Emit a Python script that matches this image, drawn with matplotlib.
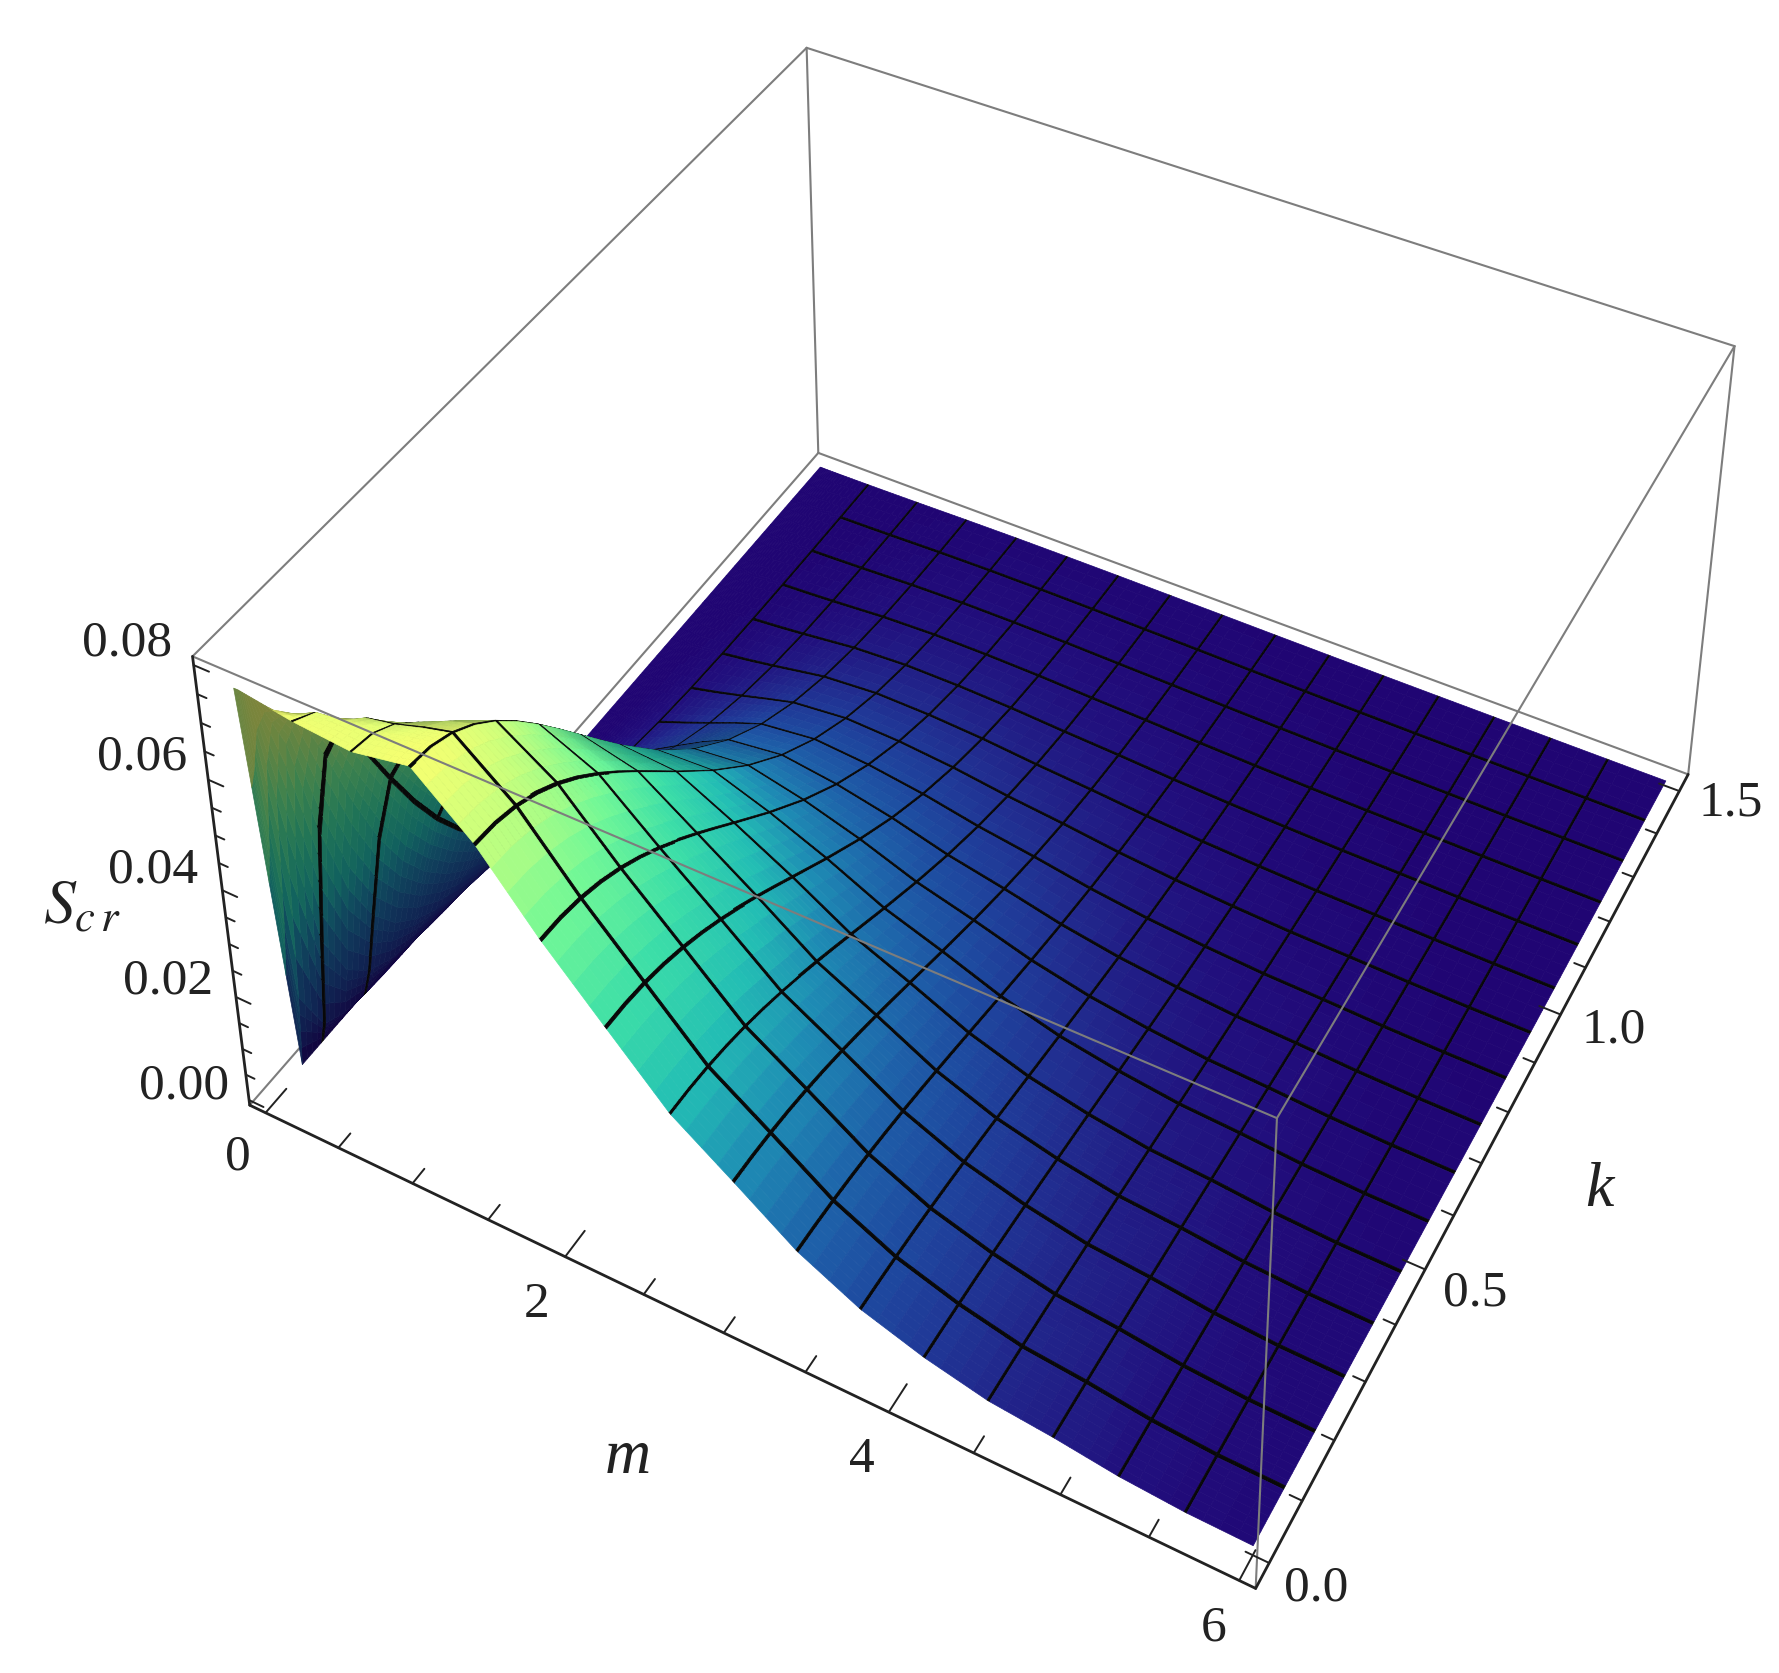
import numpy as np
import matplotlib
matplotlib.use('Agg')
import matplotlib.pyplot as plt
from matplotlib.colors import LinearSegmentedColormap

SC = 1779/1568
WPX, HPX = 1779, 1673
M0, M1 = -0.11, 6.09
K0, K1 = -0.04, 1.54
Z0, Z1 = -0.001, 0.0815

corners = {(0,0,0):(220,975),(1,0,0):(1107,1400),(1,1,0):(1487,683),(0,1,0):(722,398),
           (0,0,1):(170,578),(1,0,1):(1125,985),(1,1,1):(1530,305),(0,1,1):(710,43)}

m_vals = np.array(sorted([0,.03,.08,.15,.25,.5625,.9375]+[0.375*i for i in range(1,17)]))
k_vals = np.array(sorted([.046875,.140625,.234375,.328125,.421875]+[0.09375*j for j in range(17)]))
prof_m=[0,.03,.375,.75,1.125,1.5,1.875,2.25,2.625,3,3.375,3.75,4.125,4.5,4.875,5.25,5.625,6]
prof_z=[.074,.074,.0725,.0716,.0735,.0645,.0523,.0415,.0308,.0234,.0158,.0104,.0069,.0044,.0033,.0018,.001,.0008]
mm,kk = np.meshgrid(m_vals,k_vals,indexing='ij')
S_table = np.interp(mm,prof_m,prof_z)*(mm**2+1e-12)/(mm**2+(1.35*kk)**2+1e-12)*np.exp(-kk**2/.56)
S_table[0,1:]=0

m_lines = [0.375*i for i in range(1,16)]
k_lines = [0.09375*j for j in range(1,16)]

A=[];
for (u,v,w),(x,y) in corners.items():
    x=x*SC/1000; y=y*SC/1000
    A.append([u,v,w,1,0,0,0,0,-x*u,-x*v,-x*w,-x])
    A.append([0,0,0,0,u,v,w,1,-y*u,-y*v,-y*w,-y])
Pn=np.linalg.svd(np.array(A))[2][-1].reshape(3,4)
if Pn[2]@np.array([.5,.5,.5,1])<0: Pn=-Pn
Nrm=np.array([[1/(M1-M0),0,0,-M0/(M1-M0)],[0,1/(K1-K0),0,-K0/(K1-K0)],[0,0,1/(Z1-Z0),-Z0/(Z1-Z0)],[0,0,0,1]])
P=np.diag([1000,1000,1.])@Pn@Nrm
P=P/np.abs(P[2]).max()

fig=plt.figure(figsize=(WPX/100,HPX/100),dpi=100)
ax=fig.add_axes([0,0,1,1],projection='3d',computed_zorder=False)
ax.set_axis_off(); ax.patch.set_visible(False)
ax.apply_aspect=lambda position=None: None
D=np.array([[1,0,0],[0,-1,HPX],[0,0,1.]])
def get_proj():
    T=ax.transData.get_affine().get_matrix()
    Q=np.linalg.inv(T)@D@P
    return np.vstack([Q[0],Q[1],[0,0,0,-1.],Q[2]])
ax.get_proj=get_proj

def fine(vals,lines,hw,n):
    s=set()
    for a,b in zip(vals[:-1],vals[1:]):
        for t in np.linspace(a,b,n+1): s.add(round(float(t),6))
    for l in lines:
        s.add(round(l-hw,6)); s.add(round(l+hw,6))
    arr=np.array(sorted(s))
    keep=[v for v in arr if not any(abs(v-l)<hw-1e-9 for l in lines)]
    return np.array(keep)
HM,HK=0.0075,0.003
fm=fine(m_vals,m_lines,HM,4)
fk=fine(k_vals,k_lines,HK,4)
F=np.array([np.interp(fk,k_vals,S_table[i]) for i in range(len(m_vals))])
F=np.array([np.interp(fm,m_vals,F[:,j]) for j in range(len(fk))]).T
X,Y=np.meshgrid(fm,fk,indexing='ij')

stops=[(0,(32,5,115)),(.02,(33,15,125)),(.06,(33,40,140)),(.09,(32,55,150)),(.14,(30,75,160)),(.21,(30,100,170)),(.31,(30,140,180)),(.41,(35,190,180)),
       (.55,(60,222,168)),(.7,(115,248,150)),(.86,(200,255,125)),(1,(255,255,110))]
cm=LinearSegmentedColormap.from_list('sc',[(a,tuple(c/255 for c in b)) for a,b in stops])
cm_mid=0.25*(F[:-1,:-1]+F[1:,1:]+F[1:,:-1]+F[:-1,1:])
fc=cm(np.clip(cm_mid/0.075,0,1))

Br=np.array([1/(M1-M0),1/(K1-K0),0.4/(Z1-Z0)])
c=np.linalg.svd(P)[2][-1]; c=c[:3]/c[3]
def w(a,b,z): return np.stack([a*Br[0],b*Br[1],z*Br[2]],-1)
Pw=w(X,Y,F)
d1=Pw[1:,:-1]-Pw[:-1,:-1]; d2=Pw[:-1,1:]-Pw[:-1,:-1]
n=np.cross(d1,d2); n/= np.linalg.norm(n,axis=-1,keepdims=True)+1e-12
mid=0.25*(Pw[:-1,:-1]+Pw[1:,:-1]+Pw[:-1,1:]+Pw[1:,1:])
v=c*Br-mid; v/=np.linalg.norm(v,axis=-1,keepdims=True)
dv=(n*v).sum(-1)
f=np.where(dv<0,0.52,0.62+0.38*np.clip(dv/0.25,0,1))
fc[...,:3]*=f[...,None]

cmx=0.5*(fm[:-1]+fm[1:]); ckx=0.5*(fk[:-1]+fk[1:])
for l in m_lines:
    fc[np.abs(cmx-l)<HM,:,:3]=0.03
for j,l in enumerate(k_lines):
    sel=np.abs(ckx-l)<HK
    im=cmx>=0.375 if j>=2 else np.ones_like(cmx,bool)
    fc[np.ix_(im,sel)]=(0.03,0.03,0.03,1)
fc[:,ckx<0.005,:3]=0.03

ax.plot_surface(X,Y,F,rstride=1,cstride=1,facecolors=fc,shade=False,linewidth=0.5,antialiased=True,zorder=2)

GR='#7d7d7d'; BK='#222222'
def L(p,q,col=GR,lw=1.5,z=1):
    ax.plot([p[0],q[0]],[p[1],q[1]],[p[2],q[2]],color=col,lw=lw,zorder=z,solid_capstyle='round')
a=(M0,K0,Z0);b=(M1,K0,Z0);c_=(M1,K1,Z0);d=(M0,K1,Z0)
e=(M0,K0,Z1);f_=(M1,K0,Z1);g=(M1,K1,Z1);h=(M0,K1,Z1)
for p,q in [(e,h),(h,g),(h,d),(g,c_),(d,c_),(d,a)]: L(p,q)
for p,q in [(e,f_),(f_,g),(f_,b)]: L(p,q,z=5)
for p,q in [(a,b),(b,c_),(a,e)]: L(p,q,BK,2.0,z=6)

for t in np.arange(0,6.01,.5):
    ln=0.048 if abs(t/2-round(t/2))<1e-6 else 0.028
    L((t,K0,Z0),(t,K0+ln,Z0),BK,1.4,6)
for t in np.arange(0,1.501,.1):
    ln=0.13 if abs(t/.5-round(t/.5))<1e-6 else 0.07
    L((M1,t,Z0),(M1-ln,t,Z0),BK,1.4,6)
for t in np.arange(0,.0801,.005):
    ln=0.1 if abs(t/.02-round(t/.02))<1e-6 else 0.06
    L((M0,K0,t),(M0+ln,K0,t),BK,1.4,6)

plt.rcParams['mathtext.fontset']='stix'
FONT='Liberation Serif'
def T(x,y,s,size=37,**kw):
    fig.text(x*SC/WPX,1-y*SC/HPX,s,family=FONT,size=size,ha='center',va='center',color='#222222',**kw)
m_labels=['0','2','4','6']; m_pos=[(210,1020),(473,1150),(760,1287),(1070,1435)]
k_labels=['0.0','0.5','1.0','1.5']; k_pos=[(1160,1400),(1300,1140),(1422,908),(1525,708)]
z_labels=['0.00','0.02','0.04','0.06','0.08']; z_pos=[(162,957),(148,865),(135,767),(125,667),(112,567)]
for labs,pos in [(m_labels,m_pos),(k_labels,k_pos),(z_labels,z_pos)]:
    for s,(x,y) in zip(labs,pos): T(x,y,s)
T(553,1285,'m',size=46,style='italic'); T(1410,1050,'k',size=46,style='italic')
T(72,800,r'$S_{c\,r}$',size=46)
fig.savefig('out.png',dpi=100)
